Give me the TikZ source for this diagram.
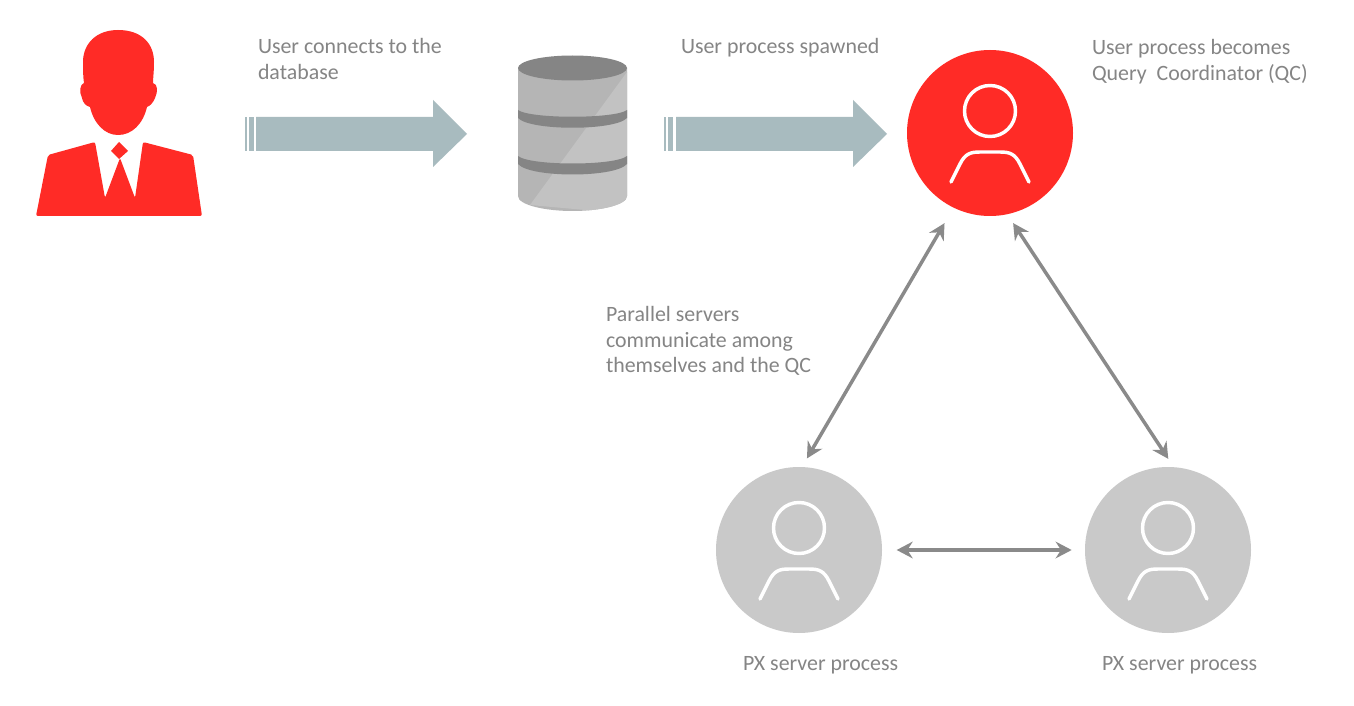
\documentclass[tikz,border=0pt]{standalone}
\usepackage{fontspec}
\setmainfont{Carlito}
\usetikzlibrary{arrows.meta}
\definecolor{oxred}{HTML}{FF2B26}
\definecolor{pxgrey}{HTML}{C9C9C9}
\definecolor{txtgrey}{HTML}{858585}
\definecolor{linkgrey}{HTML}{8A8A8A}
\definecolor{blockcol}{HTML}{A8BBBF}
\definecolor{dbmid}{HTML}{B5B5B5}
\definecolor{dblight}{HTML}{C2C2C2}
\definecolor{dbdark}{HTML}{858585}
\tikzset{
  x=0.75pt,y=-0.75pt,
  proc/.style={circle,minimum size=124.5pt,inner sep=0pt,outer sep=0pt},
  iconline/.style={draw=white,line width=2.6pt,line cap=round,line join=round},
  label/.style={text=txtgrey,font=\fontsize{16.4pt}{19.4pt}\selectfont,align=left,anchor=north west,inner sep=0pt,outer sep=0pt},
  block/.style={fill=blockcol},
  link/.style={draw=linkgrey,line width=2.6pt,{Stealth[length=12pt,width=12.5pt,inset=4pt]}-{Stealth[length=12pt,width=12.5pt,inset=4pt]}},
}
\newcommand{\usericon}[2]{%
  \draw[iconline] (#1,#2-22) circle[radius=25.5];
  \draw[iconline] (#1-39,#2+49) -- (#1-30,#2+31) .. controls (#1-25,#2+21) and (#1-20,#2+19) .. (#1-10,#2+19) -- (#1+10,#2+19) .. controls (#1+20,#2+19) and (#1+25,#2+21) .. (#1+30,#2+31) -- (#1+39,#2+49);
}
\begin{document}
\begin{tikzpicture}
\useasboundingbox (0,0) rectangle (1354,706);
\fill[white] (0,0) rectangle (1354,706);
% person
\fill[oxred] (118,30) .. controls (142,30) and (154,44) .. (154,62)
  .. controls (154,72) and (153,78) .. (153,83)
  .. controls (158,84) and (158,92) .. (155,98)
  .. controls (153,103) and (150,106) .. (147,107)
  .. controls (143,124) and (132,135) .. (118,135)
  .. controls (105,135) and (94,124) .. (90,107)
  .. controls (86,106) and (83,103) .. (82,98)
  .. controls (79,92) and (80,84) .. (84,83)
  .. controls (83,76) and (83,70) .. (83,62)
  .. controls (83,44) and (96,30) .. (118,30) -- cycle;
\fill[oxred,rounded corners=1.5pt] (95,142) -- (48,155) -- (36,216) -- (202,216) -- (193,155) -- (143,142)
  -- (135,198) -- (120,158) -- (105,198) -- cycle;
\fill[oxred] (119,142) -- (128,151) -- (119,159) -- (111,151) -- cycle;
% block arrows
\fill[block] (245,117) rectangle (246.7,151);
\fill[block] (248.5,117) rectangle (253.5,151);
\fill[block] (256,117) -- (433,117) -- (433,100) -- (467,134) -- (433,167) -- (433,151) -- (256,151) -- cycle;
\fill[block] (664,117) rectangle (666,151);
\fill[block] (668,117) rectangle (673,151);
\fill[block] (676,117) -- (853,117) -- (853,100) -- (887,134) -- (853,167) -- (853,151) -- (676,151) -- cycle;
% database
\begin{scope}
\clip (518,68) -- (518,196) .. controls (518,205) and (545,211) .. (572.5,211) .. controls (600,211) and (627,205) .. (627,196) -- (627,68) -- cycle;
\fill[dbmid] (510,60) rectangle (635,215);
\fill[dblight] (627,72) -- (530,205) -- (640,215) -- (640,72) -- cycle;
\end{scope}
\fill[dbdark] (518,110) .. controls (530,119) and (615,119) .. (627,110) -- (627,118) .. controls (615,131) and (530,131) .. (518,118) -- cycle;
\fill[dbdark] (518,156) .. controls (530,166) and (615,166) .. (627,156) -- (627,164) .. controls (615,178) and (530,178) .. (518,164) -- cycle;
\fill[dbdark] (572.5,68) ellipse[x radius=54.5,y radius=12.5];
% process circles
\node[proc,fill=oxred] (qc) at (990,133) {};
\node[proc,fill=pxgrey] (px1) at (799,550) {};
\node[proc,fill=pxgrey] (px2) at (1168,550) {};
\usericon{990}{133}
\usericon{799}{550}
\usericon{1168}{550}
% connectors
\draw[link,shorten <=13.5pt,shorten >=7.5pt] (qc.244.6) -- (px1.88.7);
\draw[link,shorten <=8pt,shorten >=7.5pt] (qc.282.4) -- (px2.86.2);
\draw[link,shorten <=11pt,shorten >=10pt] (px1.east) -- (px2.west);
% labels
\node[label] (l1) at (258,38) {User connects to the\\database};
\node[label] (l2) at (681,38) {User process spawned};
\node[label] (l3) at (1092,39) {User process becomes\\Query\ \ Coordinator (QC)};
\node[label] (l4) at (606,306) {Parallel servers\\communicate among\\themselves and the QC};
\node[label] (l5) at (743,656) {PX server process};
\node[label] (l6) at (1102,656) {PX server process};
\end{tikzpicture}
\end{document}
